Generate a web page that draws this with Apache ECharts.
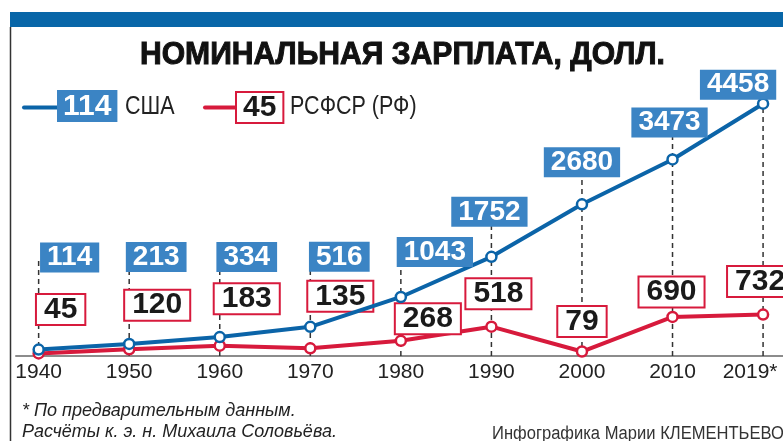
<!DOCTYPE html>
<html>
<head>
<meta charset="utf-8">
<script src="https://cdn.jsdelivr.net/npm/echarts@6/dist/echarts.min.js"></script>
<style>
html, body { margin: 0; padding: 0; background: #fff; }
#main { width: 783px; height: 441px; }
</style>
</head>
<body>
<div id="main"></div>
<script>
var years = ['1940', '1950', '1960', '1970', '1980', '1990', '2000', '2010', '2019*'];
var usa = [114, 213, 334, 516, 1043, 1752, 2680, 3473, 4458];
var rf = [45, 120, 183, 135, 268, 518, 79, 690, 732];

// сдвиг подписей от точки (центр плашки)
var usaOff = [[31, -92], [27, -87], [27, -80], [29, -70], [34, -45], [-2, -45], [0, -42], [-3, -37], [-25, -19]];
var rfOff = [[22, -44], [28, -44], [27, -47], [30, -52], [27, -22], [7, -33], [0, -30], [-1, -25], [-3, -33]];

var blue = '#0b64a8';
var red = '#d71a3c';
var boxBlue = '#3b84c4';

var usaData = [];
var rfData = [];
var guideData = [];
for (var i = 0; i < years.length; i++) {
    usaData.push({ value: [i, usa[i]], label: { offset: usaOff[i] } });
    rfData.push({ value: [i, rf[i]], label: { offset: rfOff[i] } });
    guideData.push([i, usa[i]]);
}

var option = {
    backgroundColor: '#fff',
    animation: false,
    grid: {
        left: 16,
        right: 0,
        top: 73,
        bottom: 85,
        outerBoundsMode: 'none'
    },
    xAxis: {
        type: 'value',
        min: -0.25,
        max: 8.22,
        splitLine: { show: false },
        axisTick: { show: false },
        axisLine: {
            lineStyle: { color: '#8c8c8c', width: 2 }
        },
        axisLabel: {
            customValues: [0, 1, 2, 3, 4, 5, 6, 7, 8],
            formatter: function (v) {
                var k = Math.round(v);
                // последняя подпись сдвинута влево, чтобы звёздочка влезла
                return k === years.length - 1 ? '{last|' + years[k] + '}' : years[k];
            },
            margin: 6,
            color: '#222',
            fontFamily: 'Liberation Sans',
            fontSize: 21,
            rich: {
                last: {
                    color: '#222',
                    fontFamily: 'Liberation Sans',
                    fontSize: 21,
                    padding: [0, 26, 0, 0]
                }
            }
        }
    },
    yAxis: {
        type: 'value',
        show: false,
        min: 0,
        max: 5000
    },
    series: [{
        type: 'custom',
        z: 1,
        silent: true,
        data: guideData,
        renderItem: function (params, api) {
            var idx = api.value(0);
            var base = api.coord([idx, 0]);
            var pt = api.coord([idx, api.value(1)]);
            return {
                type: 'line',
                shape: { x1: base[0], y1: base[1], x2: base[0], y2: pt[1] + usaOff[idx][1] },
                style: { stroke: '#333', lineWidth: 1.5, lineDash: [5, 4] }
            };
        }
    }, {
        name: 'РСФСР (РФ)',
        type: 'line',
        z: 3,
        symbol: 'circle',
        symbolSize: 10,
        lineStyle: { color: red, width: 4 },
        itemStyle: { color: '#fff', borderColor: red, borderWidth: 2.5 },
        label: {
            show: true,
            position: 'inside',
            formatter: function (p) { return p.value[1]; },
            color: '#1a1a1a',
            fontFamily: 'Liberation Sans',
            fontWeight: 'bold',
            fontSize: 30,
            lineHeight: 28,
            backgroundColor: '#fff',
            borderColor: red,
            borderWidth: 2,
            padding: [1, 7, 0, 7]
        },
        data: rfData
    }, {
        name: 'США',
        type: 'line',
        z: 4,
        symbol: 'circle',
        symbolSize: 10,
        lineStyle: { color: blue, width: 4 },
        itemStyle: { color: '#fff', borderColor: blue, borderWidth: 2.5 },
        label: {
            show: true,
            position: 'inside',
            formatter: function (p) { return p.value[1]; },
            color: '#fff',
            fontFamily: 'Liberation Sans',
            fontWeight: 'bold',
            fontSize: 28,
            lineHeight: 29,
            backgroundColor: boxBlue,
            padding: [1, 7, 0, 7]
        },
        data: usaData
    }],
    graphic: [
        { type: 'rect', shape: { x: 10, y: 12, width: 773, height: 15 }, style: { fill: '#0866a8' } },
        { type: 'line', shape: { x1: 10.5, y1: 27, x2: 10.5, y2: 441 }, style: { stroke: '#333', lineWidth: 1.5 } },
        // заголовок
        {
            type: 'text', x: 140, y: 55, scaleX: 0.94,
            style: {
                text: 'НОМИНАЛЬНАЯ ЗАРПЛАТА, ДОЛЛ.', fill: '#111', stroke: '#111', lineWidth: 1,
                font: 'bold 32px "Liberation Sans"', verticalAlign: 'middle'
            }
        },
        // легенда
        { type: 'line', shape: { x1: 24, y1: 107.5, x2: 58, y2: 107.5 }, style: { stroke: blue, lineWidth: 4, lineCap: 'round' } },
        {
            type: 'text', x: 57, y: 90,
            style: {
                text: String(usa[0]), fill: '#fff', backgroundColor: boxBlue,
                font: 'bold 30px "Liberation Sans"', padding: [1, 6, 0, 6], lineHeight: 31
            }
        },
        { type: 'text', x: 125, y: 107, scaleX: 0.86, style: { text: 'США', fill: '#222', font: '25px "Liberation Sans"', verticalAlign: 'middle' } },
        { type: 'line', shape: { x1: 205, y1: 107.5, x2: 238, y2: 107.5 }, style: { stroke: red, lineWidth: 4, lineCap: 'round' } },
        {
            type: 'text', x: 237, y: 93,
            style: {
                text: String(rf[0]), fill: '#1a1a1a', backgroundColor: '#fff', borderColor: red, borderWidth: 2,
                font: 'bold 30px "Liberation Sans"', padding: [0, 6, 0, 6], lineHeight: 29
            }
        },
        { type: 'text', x: 290, y: 107, scaleX: 0.86, style: { text: 'РСФСР (РФ)', fill: '#222', font: '25px "Liberation Sans"', verticalAlign: 'middle' } },
        // подписи внизу
        { type: 'text', x: 22, y: 411, style: { text: '* По предварительным данным.', fill: '#222', font: 'italic 18px "Liberation Sans"', verticalAlign: 'middle' } },
        { type: 'text', x: 22, y: 432, style: { text: 'Расчёты к. э. н. Михаила Соловьёва.', fill: '#222', font: 'italic 18px "Liberation Sans"', verticalAlign: 'middle' } },
        { type: 'text', x: 492, y: 434, scaleX: 0.92, style: { text: 'Инфографика Марии КЛЕМЕНТЬЕВОЙ', fill: '#333', font: '18px "Liberation Sans"', verticalAlign: 'middle' } }
    ]
};

var myChart = echarts.init(document.getElementById('main'));
myChart.setOption(option);
</script>
</body>
</html>
